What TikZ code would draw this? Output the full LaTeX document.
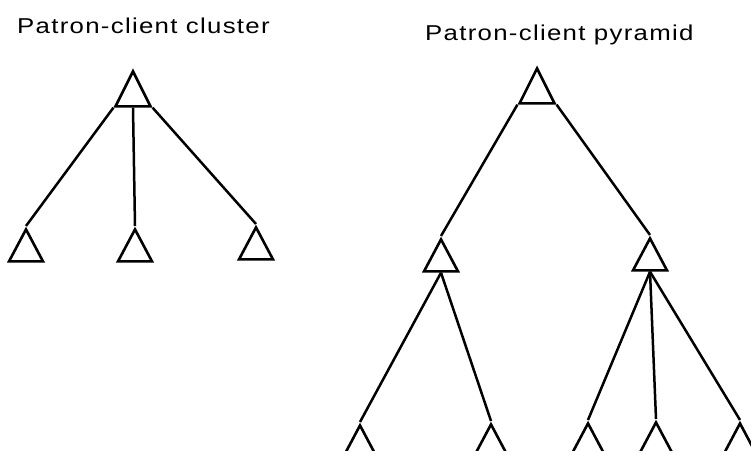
\documentclass[tikz,border=0pt]{standalone}
\usepackage{fontspec}
\setmainfont{Liberation Sans}[LetterSpace=6,FakeStretch=1.2]
\usetikzlibrary{shapes.geometric}
\begin{document}
\begin{tikzpicture}[x=1pt,y=-1pt,
  tri/.style={draw, shape=isosceles triangle, shape border rotate=90,
    isosceles triangle stretches, minimum width=34pt, minimum height=32pt,
    inner sep=0pt, line width=2.6pt, line join=miter, anchor=apex},
  bigtri/.style={tri, minimum width=35pt, minimum height=35pt},
  link/.style={line width=2.5pt},
  lbl/.style={anchor=base west, inner sep=0pt, font=\fontsize{21.5pt}{24pt}\selectfont}]
\useasboundingbox (0,0) rectangle (751,450);
\clip (0,0) rectangle (751,450);
\node[lbl] (t1) at (17,33) {Patron-client cluster};
\node[lbl] (t2) at (425,40) {Patron-client pyramid};
% cluster
\node[bigtri] (c0) at (133,68) {};
\node[tri] (c1) at (26,226) {};
\node[tri] (c2) at (135,226) {};
\node[tri] (c3) at (256,224) {};
\draw[link] (c0.left corner) -- (c1.apex);
\draw[link] (c0.lower side) -- (c2.apex);
\draw[link] (c0.right corner) -- (c3.apex);
% pyramid
\node[bigtri] (p0) at (537,65) {};
\node[tri] (p1) at (441,236) {};
\node[tri] (p2) at (650,235) {};
\node[tri] (q1) at (360,422) {};
\node[tri] (q2) at (491,421) {};
\node[tri] (q3) at (588,420) {};
\node[tri] (q4) at (656,419) {};
\node[tri] (q5) at (740,420) {};
\draw[link] (p0.left corner) -- (p1.apex);
\draw[link] (p0.right corner) -- (p2.apex);
\draw[link] (p1.lower side) -- (q1.apex);
\draw[link] (p1.lower side) -- (q2.apex);
\draw[link] (p2.lower side) -- (q3.apex);
\draw[link] (p2.lower side) -- (q4.apex);
\draw[link] (p2.lower side) -- (q5.apex);
\end{tikzpicture}
\end{document}
